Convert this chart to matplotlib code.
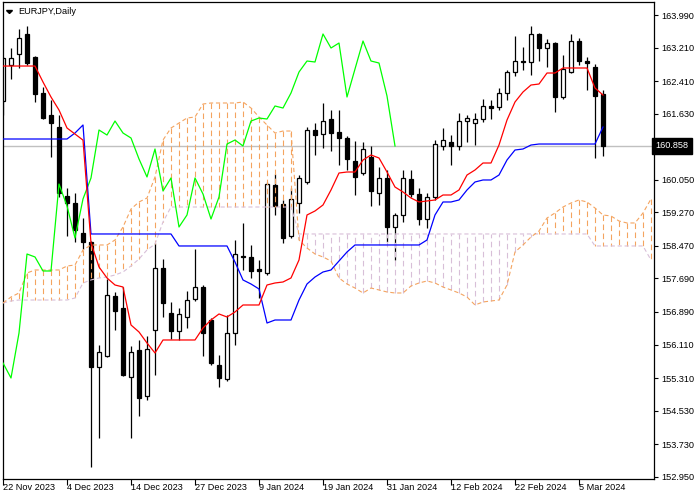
import matplotlib
matplotlib.use('Agg')
import matplotlib.pyplot as plt
import matplotlib.transforms as mtransforms
from matplotlib.patches import Polygon
import numpy as np

plt.rcParams['font.family'] = ['Liberation Sans', 'DejaVu Sans']
plt.rcParams['lines.scale_dashes'] = False

# ---------------------------------------------------------
# data: EURJPY daily candles (bar 0 = 22 Nov 2023)
# ---------------------------------------------------------
opens = [161.934, 162.794, 163.058, 163.536, 162.986, 162.125, 161.599, 161.312, 159.662, 159.495,
         158.777, 158.562, 155.573, 155.836, 157.271, 156.984, 155.334, 155.980, 154.880, 156.458,
         157.941, 156.865, 156.434, 156.769, 157.199, 157.486, 156.697, 155.621, 155.286, 156.386,
         158.228, 158.204, 157.917, 157.821, 159.925, 159.471, 158.706, 159.495, 159.997, 161.240,
         161.144, 161.503, 161.192, 161.049, 160.499, 160.212, 160.595, 159.734, 160.093, 158.921,
         159.208, 160.069, 159.710, 159.112, 159.638, 160.858, 160.953, 160.858, 161.455, 161.407,
         161.503, 161.814, 161.790, 162.125, 162.627, 162.890, 162.866, 163.536, 163.201, 163.320,
         162.029, 162.627, 163.368, 162.890, 162.746, 162.101]
highs = [162.990, 163.201, 163.655, 163.727, 163.010, 162.268, 161.957, 161.599, 159.854, 159.734,
         159.136, 158.580, 156.099, 157.678, 157.367, 157.486, 156.075, 156.219, 156.315, 158.538,
         158.156, 157.128, 156.984, 157.391, 158.395, 157.534, 156.745, 155.860, 156.817, 158.610,
         159.017, 158.491, 158.132, 159.997, 160.188, 159.567, 159.854, 160.164, 161.312, 161.407,
         161.886, 161.718, 161.718, 161.097, 160.977, 160.953, 160.858, 160.356, 160.284, 159.256,
         160.284, 160.284, 159.854, 159.734, 161.001, 161.288, 161.120, 161.647, 161.599, 161.647,
         161.981, 161.957, 162.244, 162.675, 163.488, 163.225, 163.727, 163.560, 163.416, 163.340,
         163.034, 163.536, 163.440, 162.986, 162.818, 162.196]
lows = [161.599, 162.460, 162.723, 162.794, 161.910, 161.503, 160.595, 159.640, 158.706, 158.562,
        158.395, 153.182, 153.875, 155.810, 156.458, 155.358, 153.875, 154.401, 154.784, 155.382,
        156.769, 156.243, 156.219, 156.506, 157.152, 155.836, 155.621, 155.095, 155.238, 156.099,
        157.893, 157.702, 157.223, 157.773, 159.208, 158.538, 158.658, 159.256, 159.949, 160.643,
        160.810, 160.738, 160.403, 160.284, 159.686, 160.164, 159.423, 159.447, 158.562, 158.132,
        159.041, 159.638, 158.969, 158.897, 159.567, 160.762, 160.403, 160.762, 160.953, 160.881,
        161.431, 161.503, 161.718, 161.957, 162.531, 162.675, 162.555, 162.890, 162.746, 161.671,
        161.981, 162.603, 162.794, 162.196, 160.571, 160.619]
closes = [162.962, 162.962, 163.440, 162.842, 162.101, 161.527, 161.407, 159.734, 159.495, 158.849,
          158.562, 155.573, 155.932, 157.295, 156.912, 155.382, 155.932, 154.832, 156.004, 157.941,
          157.104, 156.434, 156.841, 157.175, 157.486, 156.386, 155.669, 155.310, 156.386, 158.275,
          158.204, 157.869, 157.869, 159.949, 159.423, 158.658, 159.591, 160.093, 161.240, 161.120,
          161.455, 161.168, 161.049, 160.547, 160.117, 160.786, 159.782, 160.093, 158.921, 159.208,
          160.093, 159.710, 159.112, 159.638, 160.905, 161.001, 160.858, 161.455, 161.527, 161.503,
          161.814, 161.766, 162.125, 162.627, 162.890, 162.866, 163.536, 163.201, 163.320, 162.029,
          162.699, 163.368, 162.890, 162.842, 162.053, 160.858]

# Ichimoku lines
tenkan = [162.770, 162.770, 162.770, 162.770, 162.770, 162.388, 162.029, 161.718, 161.288, 161.144,
          160.999, 158.538, 157.965, 157.702, 157.534, 157.486, 156.578, 156.410, 156.147, 155.908,
          156.219, 156.219, 156.219, 156.219, 156.219, 156.506, 156.697, 156.841, 156.769, 156.889,
          157.056, 157.056, 157.056, 157.534, 157.582, 157.606, 157.702, 158.132, 159.208, 159.304,
          159.447, 159.806, 160.212, 160.236, 160.236, 160.523, 160.643, 160.571, 160.236, 159.877,
          159.758, 159.614, 159.519, 159.543, 159.567, 159.686, 159.686, 159.806, 160.164, 160.284,
          160.451, 160.451, 160.881, 161.479, 161.910, 162.149, 162.316, 162.340, 162.603, 162.603,
          162.723, 162.723, 162.723, 162.723, 162.244, 162.077]
kijun = [161.025, 161.025, 161.025, 161.025, 161.025, 161.025, 161.025, 161.025, 161.025, 161.168,
         161.360, 158.754, 158.754, 158.754, 158.754, 158.754, 158.754, 158.754, 158.754, 158.754,
         158.754, 158.754, 158.467, 158.467, 158.467, 158.467, 158.467, 158.467, 158.467, 158.084,
         157.654, 157.558, 157.439, 156.625, 156.697, 156.697, 156.697, 157.175, 157.558, 157.725,
         157.845, 157.893, 158.108, 158.323, 158.491, 158.491, 158.491, 158.491, 158.491, 158.491,
         158.491, 158.491, 158.491, 158.610, 159.208, 159.519, 159.519, 159.567, 159.806, 159.997,
         160.045, 160.045, 160.164, 160.523, 160.762, 160.786, 160.881, 160.905, 160.905, 160.905,
         160.905, 160.905, 160.905, 160.905, 160.905, 161.312]
span_a = [157.104, 157.247, 157.343, 157.821, 157.893, 157.893, 157.893, 157.893, 157.988, 158.012,
          158.371, 158.491, 158.491, 158.491, 158.610, 158.921, 159.351, 159.519, 159.614, 160.117,
          161.001, 161.288, 161.407, 161.527, 161.551, 161.862, 161.886, 161.886, 161.886, 161.886,
          161.910, 161.766, 161.551, 161.360, 161.168, 161.216, 161.216, 158.610, 158.419, 158.275,
          158.204, 158.108, 157.702, 157.558, 157.462, 157.343, 157.462, 157.415, 157.367, 157.343,
          157.343, 157.510, 157.582, 157.630, 157.582, 157.486, 157.415, 157.343, 157.247, 157.056,
          157.128, 157.152, 157.175, 157.534, 158.323, 158.491, 158.682, 158.825, 159.136, 159.256,
          159.399, 159.495, 159.567, 159.519, 159.375, 159.208, 159.184, 159.064, 159.017, 159.017,
          159.256, 159.591]
span_b = [157.104, 157.152, 157.175, 157.175, 157.175, 157.175, 157.175, 157.175, 157.175, 157.223,
          157.582, 157.654, 157.702, 157.725, 157.773, 157.845, 157.988, 158.156, 158.371, 158.514,
          159.041, 159.399, 159.399, 159.399, 159.399, 159.399, 159.399, 159.399, 159.399, 159.399,
          159.399, 159.399, 159.399, 159.399, 159.399, 159.399, 159.399, 158.754, 158.754, 158.754,
          158.754, 158.754, 158.754, 158.754, 158.754, 158.754, 158.754, 158.754, 158.754, 158.754,
          158.754, 158.754, 158.754, 158.754, 158.754, 158.754, 158.754, 158.754, 158.754, 158.754,
          158.754, 158.754, 158.754, 158.754, 158.754, 158.754, 158.754, 158.754, 158.754, 158.754,
          158.754, 158.754, 158.754, 158.754, 158.467, 158.467, 158.467, 158.467, 158.467, 158.467,
          158.467, 158.132]
chikou_shift = 26

price_ticks = [152.950, 153.730, 154.530, 155.310, 156.110, 156.890, 157.690, 158.470,
               159.270, 160.050, 161.630, 162.410, 163.210, 163.990]
date_ticks = [0, 8, 16, 24, 32, 40, 48, 56, 64, 72]
date_labels = ['22 Nov 2023', '4 Dec 2023', '14 Dec 2023', '27 Dec 2023', '9 Jan 2024',
               '19 Jan 2024', '31 Jan 2024', '12 Feb 2024', '22 Feb 2024', '5 Mar 2024']
last_price = 160.858
symbol = 'EURJPY,Daily'

# ---------------------------------------------------------
fig = plt.figure(figsize=(7, 5), dpi=100)
ax = fig.add_axes([2.7 / 700, 1 - 479 / 500, 651.3 / 700, 477 / 500])

n = len(closes)
xs = np.arange(n)
o = np.array(opens); c = np.array(closes)
h = np.array(highs); l = np.array(lows)
up = c >= o

# candles
ax.vlines(xs, l, h, color='black', lw=0.9, zorder=2)
body_lo = np.minimum(o, c)
body_h = np.maximum(np.abs(c - o), 0.01)
ax.bar(xs[up], body_h[up], bottom=body_lo[up], width=0.6, color='white',
       edgecolor='black', linewidth=0.9, zorder=2.5)
ax.bar(xs[~up], body_h[~up], bottom=body_lo[~up], width=0.6, color='black',
       edgecolor='black', linewidth=0.9, zorder=2.5)

# cloud hatch (vertical dashed lines)
sa = np.array(span_a); sb = np.array(span_b)
xk = np.arange(len(sa))
hatch_cols = ['#F4A460' if a >= b else '#D8BFD8' for a, b in zip(sa, sb)]
ax.vlines(xk, sa, sb, colors=hatch_cols, lw=0.8, linestyles=(0, (4, 2.5)), zorder=3)
ax.plot(xk, sb, color='#D8BFD8', lw=0.8, ls=(0, (3, 2)), zorder=3)
ax.plot(xk, sa, color='#F4A460', lw=0.8, ls=(0, (3, 2)), zorder=3)

# current price line
ax.axhline(last_price, color='#C0C0C0', lw=1, zorder=1)

# chikou, kijun, tenkan
ax.plot(np.arange(n - chikou_shift), c[chikou_shift:], color='#00FF00', lw=0.9, zorder=4)
ax.plot(xs, kijun, color='#0000FF', lw=0.9, zorder=4)
ax.plot(xs, tenkan, color='#FF0000', lw=0.9, zorder=4)

ax.set_xlim(-0.0375, 81.375)
ax.set_ylim(152.895, 164.301)

for sp in ax.spines.values():
    sp.set_color('black')
    sp.set_linewidth(0.9)

ax.yaxis.tick_right()
ax.set_yticks(price_ticks)
ax.set_yticklabels(['%.3f' % v for v in price_ticks])
ax.tick_params(axis='y', direction='out', length=3, width=0.8, pad=2, labelsize=6.6)
ax.set_xticks(date_ticks)
ax.set_xticklabels([])
ax.tick_params(axis='x', direction='out', length=4, width=0.8)

trans = mtransforms.blended_transform_factory(ax.transData, fig.transFigure)
for xt, lab in zip(date_ticks, date_labels):
    ax.text(xt + 0.05, 1 - 488 / 500, lab, transform=trans, ha='left', va='center',
            fontsize=6.6, clip_on=False)

# price label on the right axis
tr2 = mtransforms.blended_transform_factory(ax.transAxes, ax.transData)
ax.text(1.0025, last_price, '%.3f' % last_price, transform=tr2, ha='left', va='center',
        fontsize=6.6, color='white', clip_on=False, zorder=6,
        bbox=dict(boxstyle='square,pad=0.35', fc='black', ec='black'))

# symbol title
fig.text(18 / 700, 1 - 11 / 500, symbol, fontsize=6.6, ha='left', va='center')
tri = Polygon([[6.5, 489.5], [12.5, 489.5], [9.5, 486.5]], closed=True,
              transform=mtransforms.IdentityTransform(), color='black')
fig.add_artist(tri)

fig.savefig('out.png', dpi=100)
